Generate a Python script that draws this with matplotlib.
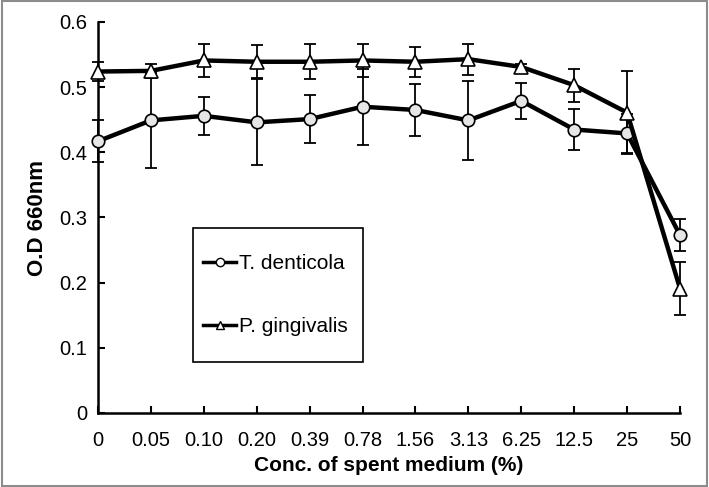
import matplotlib
matplotlib.use('Agg')
from matplotlib import pyplot as plt
from matplotlib.lines import Line2D
from matplotlib.patches import Rectangle

plt.rcParams['font.family'] = ['Liberation Sans', 'DejaVu Sans']

# data
conc = ['0', '0.05', '0.10', '0.20', '0.39', '0.78', '1.56', '3.13', '6.25', '12.5', '25', '50']
td_mean = [0.417, 0.449, 0.456, 0.446, 0.451, 0.470, 0.465, 0.449, 0.479, 0.435, 0.429, 0.273]
td_err = [0.032, 0.073, 0.029, 0.066, 0.037, 0.058, 0.040, 0.060, 0.028, 0.031, 0.030, 0.025]
pg_mean = [0.524, 0.525, 0.541, 0.539, 0.539, 0.541, 0.539, 0.543, 0.531, 0.503, 0.461, 0.191]
pg_err = [0.015, 0.011, 0.025, 0.025, 0.027, 0.025, 0.023, 0.024, 0.004, 0.025, 0.064, 0.040]

x = list(range(len(conc)))

fig = plt.figure(figsize=(7.09, 4.87), dpi=100)
ax = fig.add_axes([98/709, 1-413/487, 582/709, 391/487])

# error bars first, then the lines with markers on top
for m, e in [(td_mean, td_err), (pg_mean, pg_err)]:
    eb = ax.errorbar(x, m, yerr=e, fmt='none', ecolor='black', elinewidth=1.3,
                     capsize=4, capthick=1.3, zorder=2)
    for art in eb.lines[1] + eb.lines[2]:
        art.set_clip_on(False)
ax.plot(x, td_mean, color='black', lw=3.2, marker='o', ms=9, mfc='#e6e6e6', mec='black', mew=1.2,
        zorder=3, clip_on=False)
ax.plot(x, pg_mean, color='black', lw=3.2, marker='^', ms=10, mfc='white', mec='black', mew=1.2,
        zorder=3, clip_on=False)

ax.set_xlim(0, 11)
ax.set_ylim(0, 0.6)
ax.set_xticks(x)
ax.set_xticklabels(conc)
ax.set_yticks([0, 0.1, 0.2, 0.3, 0.4, 0.5, 0.6])
ax.set_yticklabels(['0', '0.1', '0.2', '0.3', '0.4', '0.5', '0.6'])

for s in ['top', 'right']:
    ax.spines[s].set_visible(False)
for s in ['left', 'bottom']:
    ax.spines[s].set_linewidth(1.8)
ax.tick_params(axis='both', direction='in', length=5, width=1.5, labelsize=14.5, colors='black')
ax.tick_params(axis='x', pad=13)
ax.tick_params(axis='y', pad=8)

ax.set_xlabel('Conc. of spent medium (%)', fontsize=15, fontweight='bold', labelpad=4)
ax.set_ylabel('O.D 660nm', fontsize=16, fontweight='bold', labelpad=8)

# legend, Excel style (frame drawn separately)
handles = [
    Line2D([], [], color='black', lw=2.5, marker='o', ms=6, mfc='white', mec='black', mew=1),
    Line2D([], [], color='black', lw=2.5, marker='^', ms=6, mfc='white', mec='black', mew=1),
]
leg = ax.legend(handles, ['T. denticola', 'P. gingivalis'], loc='center left',
                bbox_to_anchor=((203-98)/582, (413-295)/391), fontsize=15,
                frameon=False, handlelength=1.6, handletextpad=0.15,
                labelspacing=2.1, borderpad=0, borderaxespad=0)
ax.add_patch(Rectangle(((193-98)/582, (413-362)/391), (363-193)/582, (362-228)/391,
                       transform=ax.transAxes, fill=False, edgecolor='black', lw=1.2, zorder=4))

# outer gray border
fig.patches.append(Rectangle((0.003, 0.003), 0.994, 0.994, transform=fig.transFigure,
                             fill=False, edgecolor='#8c8c8c', lw=1.5))

fig.savefig('out.png', dpi=100)
